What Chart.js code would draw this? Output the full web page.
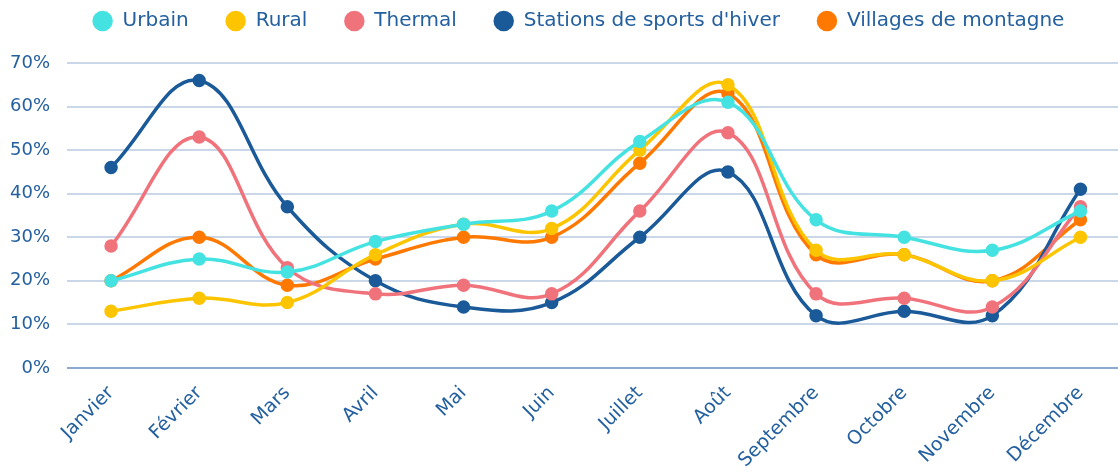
<!DOCTYPE html>
<html>
<head>
<meta charset="utf-8">
<script src="https://cdn.jsdelivr.net/npm/chart.js@4/dist/chart.umd.min.js"></script>
<style>
  html, body { margin: 0; padding: 0; background: #fff; overflow: hidden; }
  #wrap { width: 1118px; height: 472px; position: relative; overflow: hidden; }
  #box { width: 1134px; height: 478px; position: absolute; left: 0; top: 0; }
</style>
</head>
<body>
<div id="wrap"><div id="box"><canvas id="graphique"></canvas></div></div>
<script>
const mois = ["Janvier", "Février", "Mars", "Avril", "Mai", "Juin", "Juillet", "Août", "Septembre", "Octobre", "Novembre", "Décembre"];
const urbain = [20, 25, 22, 29, 33, 36, 52, 61, 34, 30, 27, 36];
const rural = [13, 16, 15, 26, 33, 32, 50, 65, 27, 26, 20, 30];
const thermal = [28, 53, 23, 17, 19, 17, 36, 54, 17, 16, 14, 37];
const stations = [46, 66, 37, 20, 14, 15, 30, 45, 12, 13, 12, 41];
const villages = [20, 30, 19, 25, 30, 30, 47, 63, 26, 26, 20, 34];

const bleuTexte = "#24609f";
const police = "DejaVu Sans";

function serie(label, data, color) {
  return {
    label: label,
    data: data,
    borderColor: color,
    backgroundColor: color,
    pointBackgroundColor: color,
    pointBorderColor: color,
    borderWidth: 3.5,
    pointRadius: 5,
    pointHoverRadius: 6,
    tension: 0.4,
    fill: false,
  };
}

// déplace la légende sans toucher à la zone du graphique
const deplaceLegende = {
  id: "deplaceLegende",
  afterLayout(chart) {
    const lg = chart.legend;
    if (lg) {
      lg.top -= 22;
      lg.bottom -= 22;
      lg.left += 15;
      lg.right += 15;
    }
  },
};

document.addEventListener("DOMContentLoaded", function () {
  const ctx = document.getElementById("graphique").getContext("2d");
  new Chart(ctx, {
    type: "line",
    data: {
      labels: mois,
      datasets: [
        serie("Urbain", urbain, "#45e2e2"),
        serie("Rural", rural, "#fcc500"),
        serie("Thermal", thermal, "#f0737c"),
        serie("Stations de sports d'hiver", stations, "#1b5a99"),
        serie("Villages de montagne", villages, "#ff7800"),
      ],
    },
    plugins: [deplaceLegende],
    options: {
      responsive: true,
      maintainAspectRatio: false,
      animation: false,
      layout: { padding: { left: -7, right: 0, top: -4, bottom: 0 } },
      plugins: {
        legend: {
          position: "top",
          labels: {
            usePointStyle: true,
            pointStyle: "circle",
            boxWidth: 20,
            boxHeight: 12,
            padding: 37,
            color: bleuTexte,
            font: { family: police, size: 20 },
          },
        },
        tooltip: { enabled: false },
      },
      scales: {
        x: {
          offset: true,
          grid: { display: false },
          border: { display: false },
          ticks: {
            color: bleuTexte,
            font: { family: police, size: 19 },
            maxRotation: 45,
            minRotation: 45,
            padding: 6,
          },
        },
        y: {
          min: 0,
          max: 70,
          grid: {
            color: function (c) { return c.tick && c.tick.value === 0 ? "#8eaad0" : "#c9d7e9"; },
            lineWidth: 2,
            drawTicks: false,
          },
          border: { display: false },
          ticks: {
            stepSize: 10,
            color: bleuTexte,
            padding: 17,
            font: { family: police, size: 18 },
            callback: function (v) { return v + "%"; },
          },
        },
      },
    },
  });
});
</script>
</body>
</html>
